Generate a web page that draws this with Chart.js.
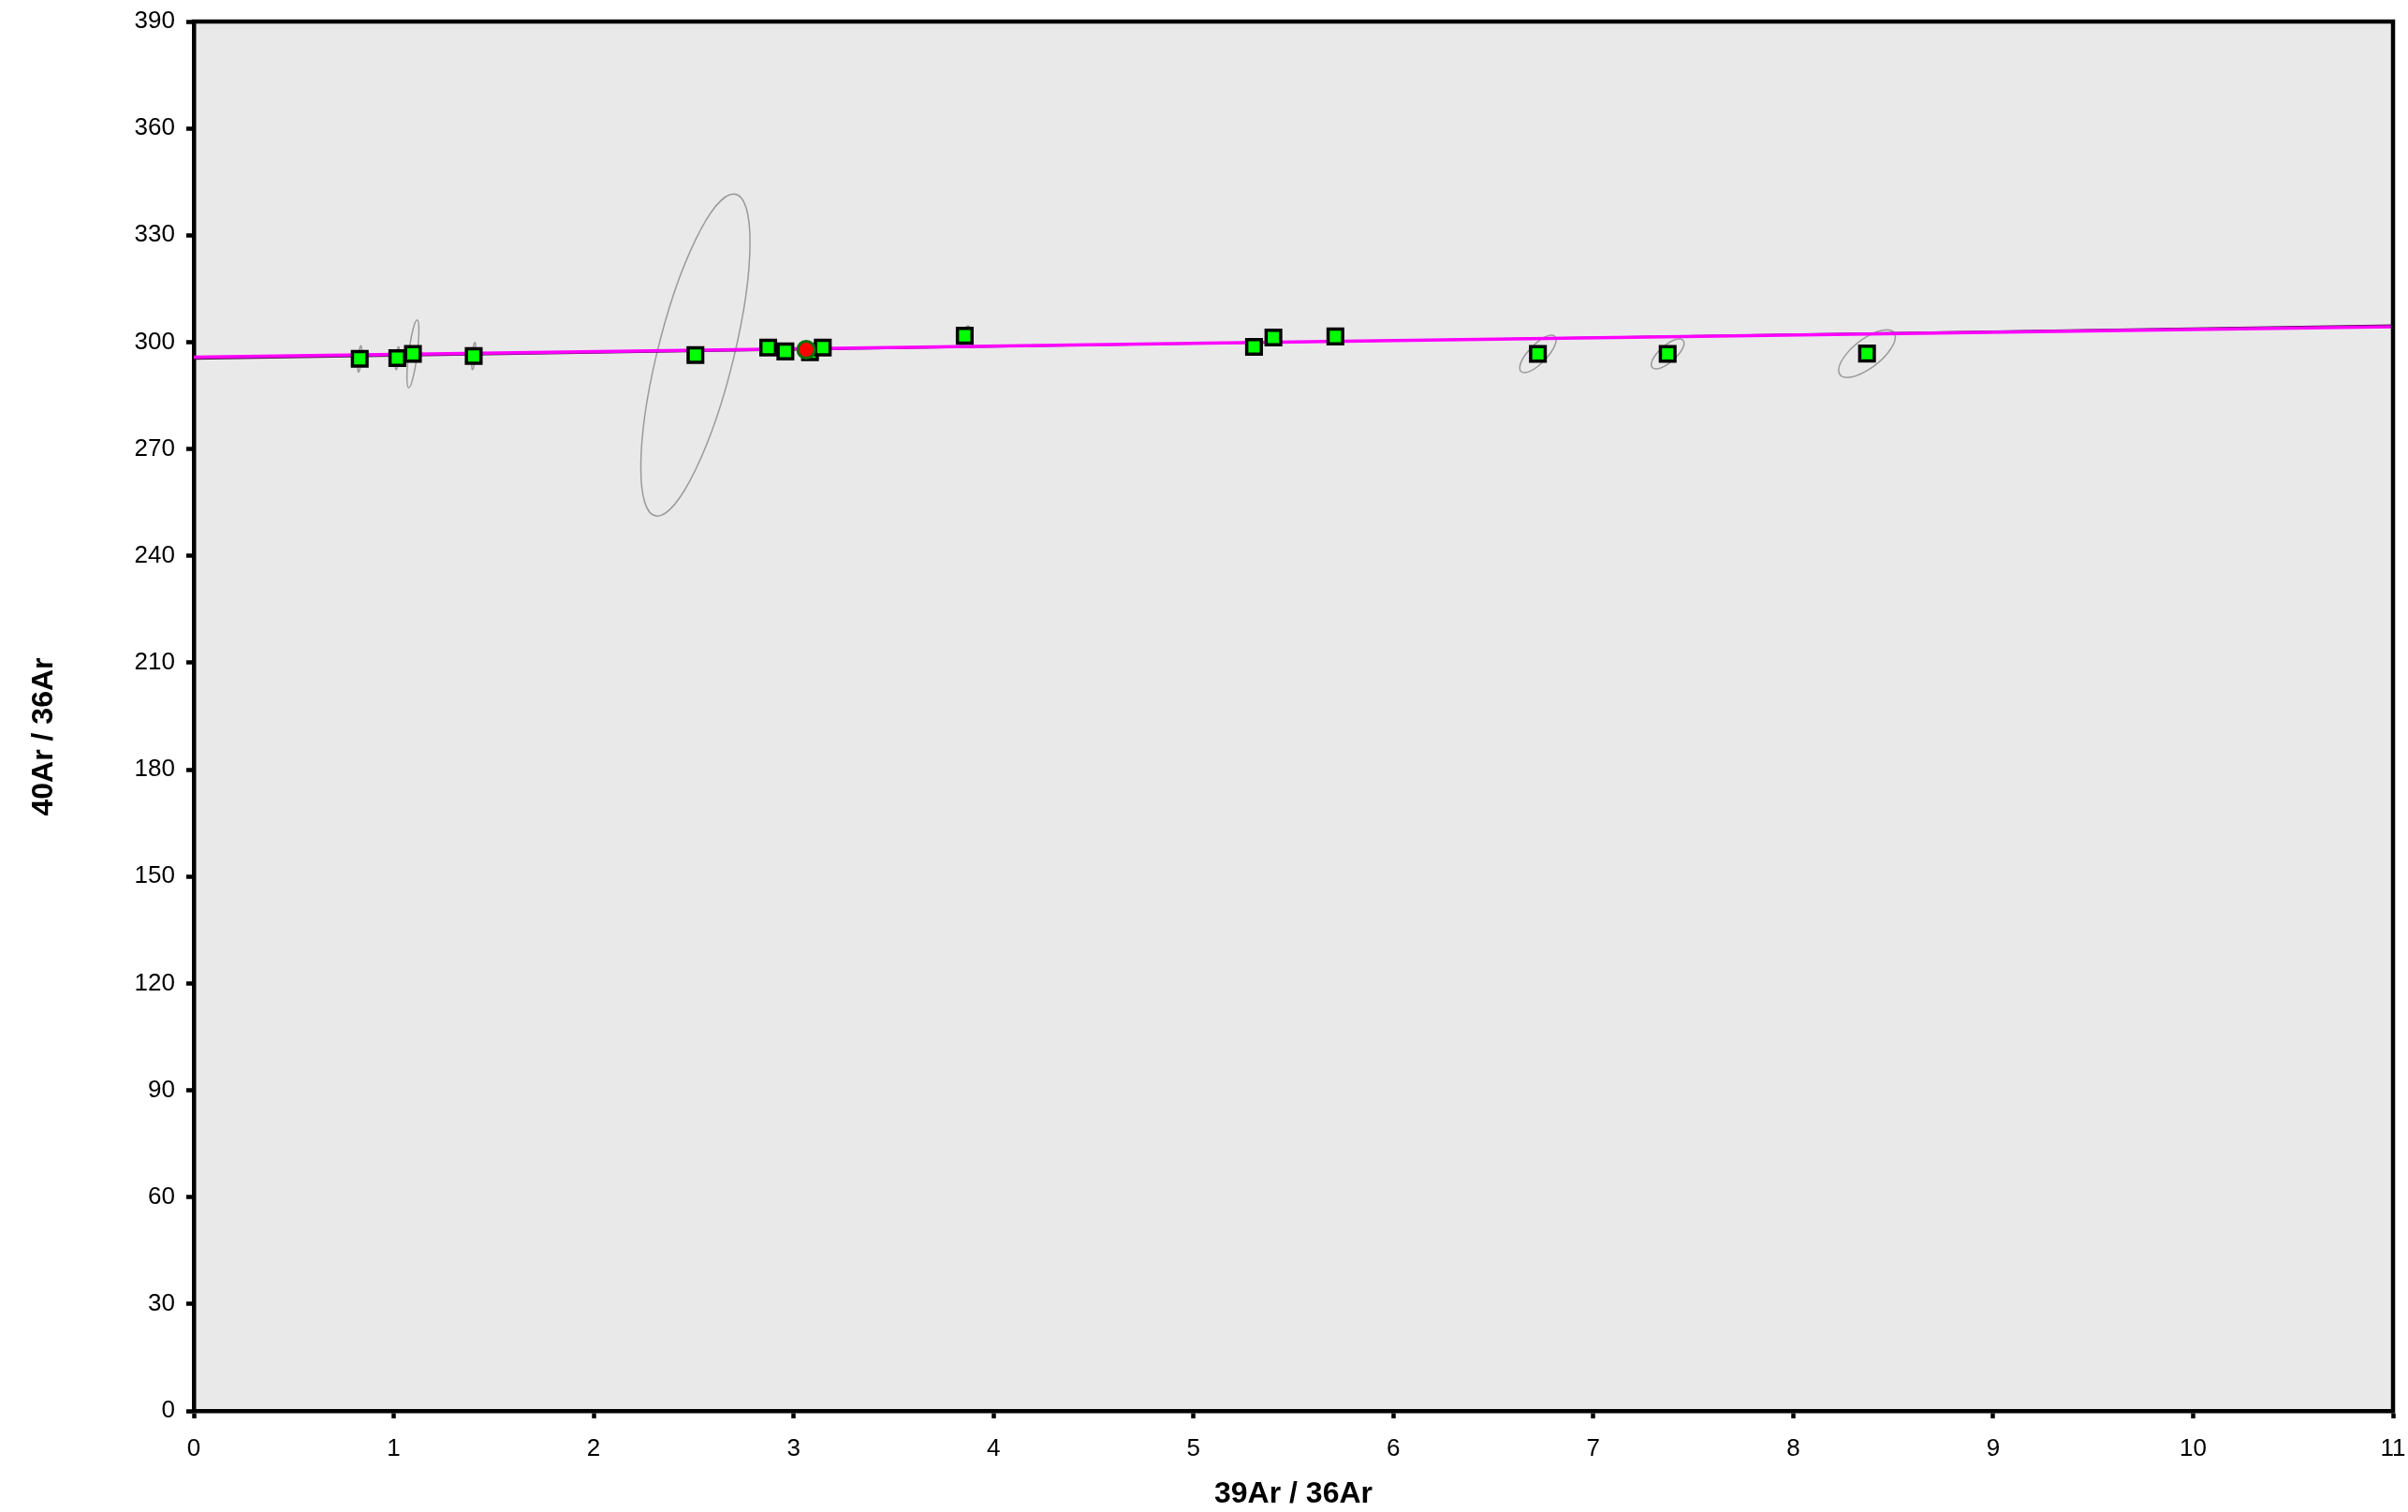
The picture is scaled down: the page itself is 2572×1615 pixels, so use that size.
<!DOCTYPE html>
<html>
<head>
<meta charset="utf-8">
<title>Isochron 40Ar/36Ar vs 39Ar/36Ar</title>
<script src="https://cdn.jsdelivr.net/npm/chart.js@4.4.1/dist/chart.umd.min.js"></script>
<style>
  html, body { margin: 0; padding: 0; background: #ffffff; }
  #wrap { width: 2572px; height: 1615px; position: relative; }
</style>
</head>
<body>
<div id="wrap"><canvas id="isochron"></canvas></div>
<script>
// step ratios (x = 39Ar/36Ar, y = 40Ar/36Ar)
const stepX = [0.830, 1.018, 1.096, 1.400, 2.509, 2.873, 2.959, 3.082, 3.146, 3.856, 5.303, 5.400, 5.710, 6.723, 7.372, 8.369];
const stepY = [295.3, 295.5, 296.7, 296.1, 296.4, 298.5, 297.4, 297.2, 298.5, 301.8, 298.7, 301.3, 301.6, 296.7, 296.7, 296.8];

// error ellipse half-extents and correlation for each step
const errX = [0.010, 0.010, 0.030, 0.010, 0.273, 0.010, 0.010, 0.010, 0.010, 0.025, 0.010, 0.010, 0.010, 0.091, 0.082, 0.142];
const errY = [3.7, 3.2, 9.5, 3.8, 45.2, 1.5, 2.0, 1.5, 1.5, 2.8, 1.5, 1.5, 1.5, 5.25, 4.2, 6.7];
const errRho = [0.6, 0.6, 0.7, 0.6, 0.70, 0.5, 0.5, 0.5, 0.5, 0.7, 0.5, 0.5, 0.5, 0.75, 0.72, 0.70];

// rejected / highlighted step
const markedX = [3.063];
const markedY = [297.9];

// fitted isochron and reference line
const fitX = [0, 11];
const fitY = [295.8, 304.3];
const refY = [295.3, 304.75];

const xTitle = "39Ar / 36Ar";
const yTitle = "40Ar / 36Ar";

Chart.defaults.font.family = "'Liberation Sans', Arial, sans-serif";
Chart.defaults.color = "#000000";

const toPoints = (xs, ys) => xs.map((x, i) => ({ x: x, y: ys[i] }));

// grey plot background and closing box on top/right
const plotFrame = {
  id: "plotFrame",
  beforeDraw(chart) {
    const { ctx, chartArea: a } = chart;
    ctx.save();
    ctx.fillStyle = "#e9e9e9";
    ctx.fillRect(a.left, a.top, a.right - a.left, a.bottom - a.top);
    ctx.restore();
  },
  afterDraw(chart) {
    const { ctx, chartArea: a } = chart;
    ctx.save();
    ctx.strokeStyle = "#000000";
    ctx.lineWidth = 4.5;
    ctx.lineCap = "square";
    ctx.beginPath();
    ctx.moveTo(a.left, a.top);
    ctx.lineTo(a.right, a.top);
    ctx.lineTo(a.right, a.bottom);
    ctx.stroke();

    // y axis title
    ctx.font = "bold 32px 'Liberation Sans', Arial, sans-serif";
    ctx.fillStyle = "#000000";
    ctx.textAlign = "center";
    ctx.textBaseline = "middle";
    ctx.translate(47, 787);
    ctx.rotate(-Math.PI / 2);
    ctx.fillText(yTitle, 0, 0);
    ctx.restore();
  }
};

// error ellipses, mapped from data units through the chart scales
const errorEllipses = {
  id: "errorEllipses",
  beforeDatasetsDraw(chart) {
    const { ctx, chartArea: a, scales } = chart;
    const kx = scales.x.getPixelForValue(1) - scales.x.getPixelForValue(0);
    const ky = scales.y.getPixelForValue(0) - scales.y.getPixelForValue(1);
    ctx.save();
    ctx.beginPath();
    ctx.rect(a.left, a.top, a.right - a.left, a.bottom - a.top);
    ctx.clip();
    ctx.strokeStyle = "#9a9a9a";
    ctx.lineWidth = 1.5;
    stepX.forEach((x, i) => {
      const cx = scales.x.getPixelForValue(x);
      const cy = scales.y.getPixelForValue(stepY[i]);
      const rho = errRho[i];
      ctx.save();
      ctx.transform(kx * errX[i], -ky * errY[i] * rho, 0, -ky * errY[i] * Math.sqrt(1 - rho * rho), cx, cy);
      ctx.beginPath();
      ctx.arc(0, 0, 1, 0, Math.PI * 2);
      ctx.restore();
      ctx.stroke();
    });
    ctx.restore();
  }
};

new Chart(document.getElementById("isochron"), {
  type: "scatter",
  data: {
    datasets: [
      {
        label: "marked",
        data: toPoints(markedX, markedY),
        order: 0,
        pointStyle: "circle",
        pointRadius: 9,
        backgroundColor: "#ff0000",
        borderColor: "#0a6e0a",
        borderWidth: 3
      },
      {
        label: "steps",
        data: toPoints(stepX, stepY),
        order: 1,
        pointStyle: "rect",
        pointRadius: 11,
        backgroundColor: "#00ff00",
        borderColor: "#000000",
        borderWidth: 3.5
      },
      {
        label: "isochron",
        type: "line",
        data: toPoints(fitX, fitY),
        order: 2,
        borderColor: "#ff00ff",
        borderWidth: 3.5,
        pointRadius: 0,
        fill: false
      },
      {
        label: "reference",
        type: "line",
        data: toPoints(fitX, refY),
        order: 3,
        borderColor: "#3a0a3a",
        borderWidth: 2,
        pointRadius: 0,
        fill: false
      }
    ]
  },
  options: {
    responsive: true,
    maintainAspectRatio: false,
    animation: false,
    events: [],
    layout: { padding: { top: 23, right: 16, left: 0, bottom: 0 } },
    plugins: {
      legend: { display: false },
      tooltip: { enabled: false }
    },
    scales: {
      x: {
        type: "linear",
        min: 0,
        max: 11,
        afterFit(scale) {
          scale.height = 108;
          scale.paddingLeft = 0;
          scale.paddingRight = 0;
        },
        ticks: {
          stepSize: 1,
          padding: 17,
          maxRotation: 0,
          font: { size: 26 },
          color: "#000000"
        },
        grid: {
          drawOnChartArea: false,
          drawTicks: true,
          tickLength: 8,
          tickWidth: 4.5,
          tickColor: "#000000"
        },
        border: { display: true, color: "#000000", width: 4.5 },
        title: {
          display: true,
          text: xTitle,
          color: "#000000",
          font: { size: 32, weight: "bold" },
          padding: { top: 0, bottom: 0 }
        }
      },
      y: {
        type: "linear",
        min: 0,
        max: 390,
        afterFit(scale) {
          scale.width = 207;
          scale.paddingTop = 0;
          scale.paddingBottom = 0;
        },
        ticks: {
          stepSize: 30,
          padding: 12,
          font: { size: 26 },
          color: "#000000"
        },
        grid: {
          drawOnChartArea: false,
          drawTicks: true,
          tickLength: 8,
          tickWidth: 4.5,
          tickColor: "#000000"
        },
        border: { display: true, color: "#000000", width: 4.5 }
      }
    }
  },
  plugins: [plotFrame, errorEllipses]
});
</script>
</body>
</html>
